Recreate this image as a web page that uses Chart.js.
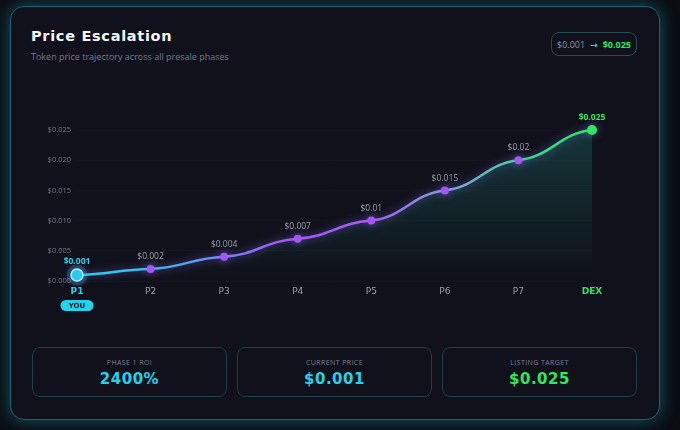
<!DOCTYPE html>
<html>
<head>
<meta charset="utf-8">
<script src="https://cdn.jsdelivr.net/npm/chart.js@4.4.1/dist/chart.umd.min.js"></script>
<style>
  html, body { margin: 0; padding: 0; background: #0a0d12; width: 680px; height: 430px; overflow: hidden; }
  body { font-family: "Open Sans", "DejaVu Sans", sans-serif; }
  .card {
    position: absolute; left: 10px; top: 6px; width: 648px; height: 412px;
    background: #10111a; border: 1.5px solid #1d6270; border-radius: 14px;
    box-shadow: 0 0 18px rgba(34, 211, 238, 0.38);
  }
  .title { position: absolute; left: 31px; top: 28px; color: #f4f6fa; font: bold 14.5px "DejaVu Sans", sans-serif; letter-spacing: 0.7px; }
  .sub { position: absolute; left: 31px; top: 50px; color: #737a90; font-size: 9px; }
  .badge {
    position: absolute; left: 551px; top: 32px; width: 86px; height: 24px;
    border: 1px solid #244a52; border-radius: 8px; box-sizing: border-box;
    font-size: 9px; display: flex; align-items: center; justify-content: center; gap: 5px;
  }
  .badge .from { color: #8a90a0; }
  .badge .arrow { color: #22d3ee; font-weight: bold; }
  .badge .to { color: #2ee860; font-weight: bold; }
  #wrap { position: absolute; left: 20px; top: 100px; width: 620px; height: 220px; }
  .stat {
    position: absolute; top: 347px; width: 195px; height: 50px; box-sizing: border-box;
    border: 1px solid #1f3f49; border-radius: 8px; text-align: center;
  }
  .stat .lbl { margin-top: 10px; color: #7b8194; font-size: 7px; letter-spacing: 0.4px; }
  .stat .val { margin-top: 3px; font: bold 15px "DejaVu Sans", sans-serif; letter-spacing: 0.5px; }
</style>
</head>
<body>
<div class="card"></div>
<div class="title">Price Escalation</div>
<div class="sub">Token price trajectory across all presale phases</div>
<div class="badge"><span class="from">$0.001</span><span class="arrow">→</span><span class="to">$0.025</span></div>
<div id="wrap"><canvas id="priceChart"></canvas></div>

<div class="stat" style="left:32px"><div class="lbl">PHASE 1 ROI</div><div class="val" style="color:#22d3ee">2400%</div></div>
<div class="stat" style="left:237px"><div class="lbl">CURRENT PRICE</div><div class="val" style="color:#22d3ee">$0.001</div></div>
<div class="stat" style="left:442px"><div class="lbl">LISTING TARGET</div><div class="val" style="color:#2ee860">$0.025</div></div>

<script>
const phases = ["P1", "P2", "P3", "P4", "P5", "P6", "P7", "DEX"];
const prices = [0.001, 0.002, 0.004, 0.007, 0.01, 0.015, 0.02, 0.025];
const priceLabels = ["$0.001", "$0.002", "$0.004", "$0.007", "$0.01", "$0.015", "$0.02", "$0.025"];

const CYAN = "#22d3ee";
const PURPLE = "#a855f7";
const GREEN = "#2ee860";
const GREY = "#9a9fad";

const last = phases.length - 1;
const pointColors = phases.map((p, i) => i === 0 ? CYAN : (i === last ? GREEN : PURPLE));
const labelColors = phases.map((p, i) => i === 0 ? CYAN : (i === last ? GREEN : GREY));

// flatten the curve at each point so segments become S-shaped
const wavePlugin = {
  id: "wave",
  afterUpdate(chart) {
    const meta = chart.getDatasetMeta(0);
    meta.dataset.updateControlPoints(chart.chartArea, "x");
    const pts = meta.data;
    pts.forEach((pt, i) => {
      const prev = pts[i - 1], next = pts[i + 1];
      if (prev) {
        pt.cp1x = pt.x - (pt.x - prev.x) * 0.45;
        pt.cp1y = pt.y + (prev.y - pt.y) * 0.12;
      }
      if (next) {
        pt.cp2x = pt.x + (next.x - pt.x) * 0.45;
        pt.cp2y = pt.y + (next.y - pt.y) * 0.12;
      }
    });
  }
};

// glow on the line
const glowPlugin = {
  id: "glow",
  beforeDatasetDraw(chart) {
    chart.ctx.save();
    chart.ctx.shadowColor = "rgba(130, 120, 255, 0.6)";
    chart.ctx.shadowBlur = 9;
  },
  afterDatasetDraw(chart) {
    chart.ctx.restore();
  }
};

// halo, value labels and YOU pill
const decoPlugin = {
  id: "deco",
  beforeDatasetsDraw(chart) {
    const ctx = chart.ctx;
    const p0 = chart.getDatasetMeta(0).data[0];
    ctx.save();
    ctx.fillStyle = "rgba(34, 211, 238, 0.2)";
    ctx.beginPath();
    ctx.arc(p0.x, p0.y, 10.5, 0, Math.PI * 2);
    ctx.fill();
    ctx.restore();
  },
  afterDatasetsDraw(chart) {
    const ctx = chart.ctx;
    const pts = chart.getDatasetMeta(0).data;
    ctx.save();
    ctx.textAlign = "center";
    ctx.textBaseline = "bottom";
    pts.forEach((pt, i) => {
      const edge = i === 0 || i === last;
      ctx.font = (edge ? "bold " : "") + "8.5px 'Open Sans', sans-serif";
      ctx.fillStyle = labelColors[i];
      ctx.fillText(priceLabels[i], pt.x, pt.y - (i === 0 ? 9 : 8));
    });
    // YOU pill under P1
    const x = pts[0].x;
    const y = chart.chartArea.bottom + 19;
    ctx.fillStyle = CYAN;
    ctx.beginPath();
    ctx.roundRect(x - 16.5, y, 33, 11, 5.5);
    ctx.fill();
    ctx.fillStyle = "#0c1a22";
    ctx.font = "bold 7px 'DejaVu Sans', sans-serif";
    ctx.textBaseline = "middle";
    ctx.fillText("YOU", x, y + 6);
    ctx.restore();
  }
};

const chart = new Chart(document.getElementById("priceChart"), {
  type: "line",
  data: {
    labels: phases,
    datasets: [{
      data: prices,
      borderWidth: 2.5,
      tension: 0.4,
      fill: true,
      clip: false,
      borderColor(context) {
        const { ctx, chartArea } = context.chart;
        if (!chartArea) return PURPLE;
        const g = ctx.createLinearGradient(chartArea.left, 0, chartArea.right, 0);
        g.addColorStop(0, CYAN);
        g.addColorStop(0.18, "#45b0f5");
        g.addColorStop(0.4, PURPLE);
        g.addColorStop(0.57, "#a35ff2");
        g.addColorStop(0.72, "#86a0dc");
        g.addColorStop(0.86, "#40d59a");
        g.addColorStop(1, GREEN);
        return g;
      },
      backgroundColor(context) {
        const { ctx, chartArea } = context.chart;
        if (!chartArea) return "transparent";
        const g = ctx.createLinearGradient(0, chartArea.top, 0, chartArea.bottom);
        g.addColorStop(0, "rgba(40, 190, 170, 0.22)");
        g.addColorStop(1, "rgba(40, 190, 170, 0)");
        return g;
      },
      pointBackgroundColor: pointColors,
      pointBorderColor: phases.map((p, i) => i === 0 ? "#a8f1ff" : pointColors[i]),
      pointBorderWidth: phases.map((p, i) => i === 0 ? 1.5 : 0),
      pointRadius: phases.map((p, i) => i === 0 ? 6 : (i === last ? 5 : 4))
    }]
  },
  options: {
    responsive: true,
    maintainAspectRatio: false,
    animation: false,
    layout: { padding: { top: 30, right: 48, left: 0, bottom: 0 } },
    plugins: { legend: { display: false }, tooltip: { enabled: false } },
    scales: {
      x: {
        offset: false,
        grid: { display: false, drawTicks: false },
        border: { display: false },
        afterFit(scale) { scale.height = 39; },
        ticks: {
          padding: 5,
          color: labelColors,
          font: (c) => ({
            size: 9,
            weight: c.index === 0 || c.index === last ? "bold" : "normal",
            family: "'DejaVu Sans', sans-serif"
          })
        }
      },
      y: {
        min: 0,
        max: 0.025,
        afterFit(scale) { scale.width = 57; },
        grid: { color: "rgba(255,255,255,0.02)", drawTicks: false },
        border: { display: false },
        ticks: {
          stepSize: 0.005,
          padding: 6,
          color: "#727889",
          font: { size: 7.5, family: "'Open Sans', sans-serif" },
          callback: (v) => "$" + v.toFixed(3)
        }
      }
    }
  },
  plugins: [wavePlugin, glowPlugin, decoPlugin]
});
</script>
</body>
</html>
